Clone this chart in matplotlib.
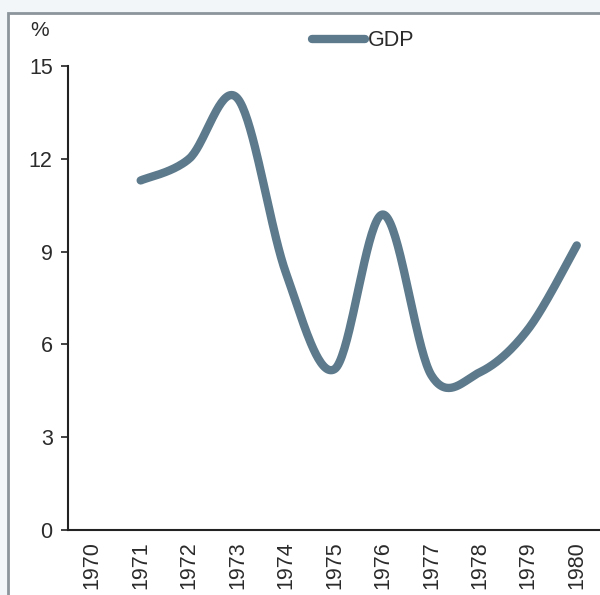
import numpy as np
import matplotlib
matplotlib.use("Agg")
import matplotlib.pyplot as plt
from matplotlib.patches import Rectangle

plt.rcParams['font.family'] = ['Liberation Sans', 'DejaVu Sans']

years = ['1970', '1971', '1972', '1973', '1974', '1975', '1976', '1977', '1978', '1979', '1980']
gdp_years = [1, 2, 3, 4, 5, 6, 7, 8, 9, 10]  # category index of each value
gdp = [11.3, 12.0, 13.95, 8.3, 5.2, 10.2, 5.0, 5.1, 6.5, 9.2]
y_ticks = [0, 3, 6, 9, 12, 15]

line_color = '#5c7a8c'
text_color = '#2b2b2b'


def smooth(xs, ys, n=40):
    """Bezier smoothing through every point (Catmull-Rom control points)."""
    xs = np.asarray(xs, float)
    ys = np.asarray(ys, float)
    px = np.concatenate([[xs[0]], xs, [xs[-1]]])
    py = np.concatenate([[ys[0]], ys, [ys[-1]]])
    out_x, out_y = [], []
    t = np.linspace(0, 1, n)
    for i in range(1, len(px) - 2):
        p0 = np.array([px[i - 1], py[i - 1]])
        p1 = np.array([px[i], py[i]])
        p2 = np.array([px[i + 1], py[i + 1]])
        p3 = np.array([px[i + 2], py[i + 2]])
        c1 = p1 + (p2 - p0) / 6.0
        c2 = p2 - (p3 - p1) / 6.0
        b = ((1 - t) ** 3)[:, None] * p1 + (3 * (1 - t) ** 2 * t)[:, None] * c1 \
            + (3 * (1 - t) * t ** 2)[:, None] * c2 + (t ** 3)[:, None] * p2
        out_x.extend(b[:, 0])
        out_y.extend(b[:, 1])
    return np.array(out_x), np.array(out_y)


fig = plt.figure(figsize=(6.0, 5.95), dpi=100, facecolor='#f3f6f9')

# outer chart frame
fig.patches.append(Rectangle((8 / 600, -0.1), 1.2, 1.1 - 13 / 595,
                             transform=fig.transFigure, facecolor='white',
                             edgecolor='#8c959c', linewidth=2.0, zorder=-5))

ax = fig.add_axes([68 / 600, 65 / 595, 533 / 600, 464 / 595])
ax.set_zorder(2)
ax.set_facecolor('none')

sx, sy = smooth(gdp_years, gdp)
ax.plot(sx, sy, color=line_color, linewidth=6, solid_capstyle='round',
        solid_joinstyle='round', label='GDP', clip_on=False)

ax.set_xlim(-0.5, 10.5)
ax.set_ylim(0, 15)
ax.set_xticks(range(len(years)))
ax.set_xticklabels(years, rotation=90, fontsize=15.5, color=text_color)
ax.set_yticks(y_ticks)
ax.set_yticklabels([str(v) for v in y_ticks], fontsize=15.5, color=text_color)
ax.tick_params(axis='x', length=0, pad=8)
ax.tick_params(axis='y', length=5, width=1.2, color='#222222', pad=6)

for side in ('top', 'right'):
    ax.spines[side].set_visible(False)
for side in ('left', 'bottom'):
    ax.spines[side].set_color('#222222')
    ax.spines[side].set_linewidth(1.5)

fig.text(40 / 600, 1 - 31 / 595, '%', fontsize=15, color=text_color,
         ha='center', va='center')

leg = ax.legend(loc='center left', bbox_to_anchor=(312 / 600, 1 - 41 / 595),
                bbox_transform=fig.transFigure, frameon=False,
                fontsize=15.5, handlelength=2.45, handletextpad=0.15,
                borderpad=0, borderaxespad=0)
for t in leg.get_texts():
    t.set_color(text_color)

fig.savefig('out.png', dpi=100, facecolor=fig.get_facecolor())
